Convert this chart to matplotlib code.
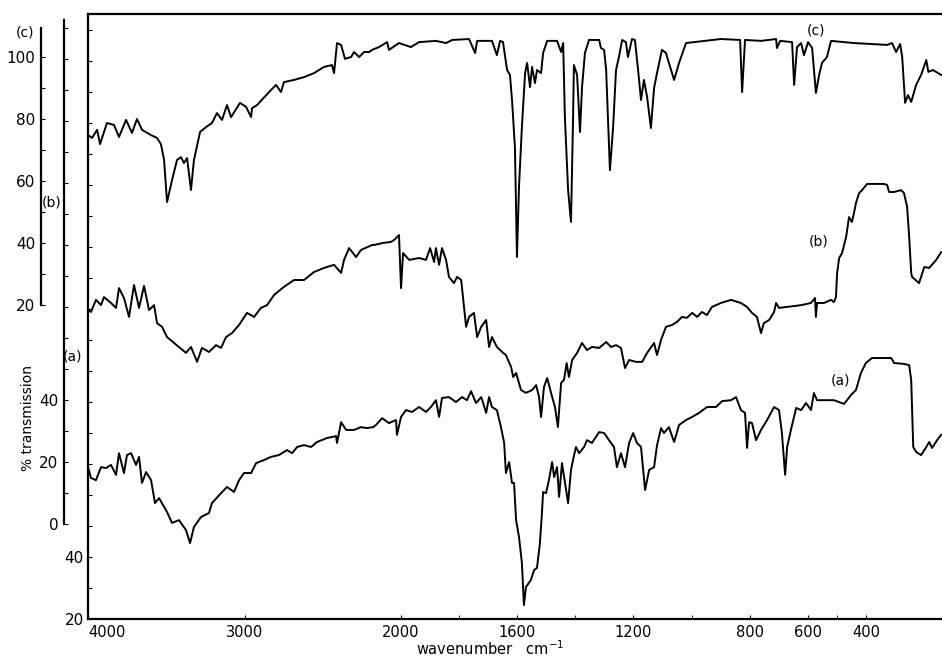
import matplotlib.pyplot as plt
import numpy as np

# spectrum (c) - read against the outer left scale
wn_c = [4000, 3974, 3942, 3923, 3879, 3834, 3802, 3757, 3719, 3687, 3655, 3597, 3559, 3534,
        3514, 3495, 3463, 3431, 3406, 3387, 3367, 3342, 3323, 3284, 3246, 3208, 3176, 3144,
        3112, 3086, 3029, 2990, 2958, 2952, 2920, 2843, 2799, 2767, 2748, 2684, 2620, 2556,
        2492, 2441, 2428, 2409, 2383, 2358, 2319, 2300, 2268, 2236, 2204, 2185, 2141, 2089,
        2077, 2013, 1966, 1938, 1880, 1845, 1824, 1766, 1745, 1738, 1687, 1670, 1659, 1649,
        1635, 1625, 1618, 1608, 1601, 1594, 1584, 1573, 1566, 1556, 1549, 1539, 1532, 1518,
        1511, 1497, 1463, 1449, 1442, 1436, 1425, 1415, 1408, 1405, 1394, 1384, 1377, 1367,
        1353, 1318, 1312, 1301, 1294, 1281, 1270, 1260, 1250, 1239, 1226, 1219, 1205, 1195,
        1184, 1174, 1164, 1153, 1140, 1129, 1119, 1102, 1088, 1078, 1060, 1043, 1019, 992,
        899, 833, 826, 816, 761, 709, 706, 695, 654, 647, 637, 623, 613, 599, 585, 572, 561,
        551, 534, 520, 441, 382, 327, 310, 296, 282, 275, 265, 255, 244, 227, 210, 192, 185,
        169, 141]
tr_c = [74.8, 73.9, 76.5, 71.9, 78.7, 78.1, 74.2, 79.7, 75.5, 80.0, 76.5, 74.8, 73.9, 71.9,
        66.8, 53.2, 60.3, 66.8, 67.7, 65.8, 67.4, 57.1, 66.8, 75.8, 77.4, 78.7, 81.9, 79.7,
        84.5, 80.6, 85.2, 83.9, 80.6, 83.5, 84.5, 88.7, 91.0, 88.7, 91.9, 92.6, 93.5, 94.8,
        96.8, 97.4, 94.8, 104.5, 103.9, 99.4, 100.0, 101.6, 100.0, 101.6, 101.6, 102.3, 103.2, 104.8,
        102.3, 104.5, 103.2, 104.8, 105.2, 104.5, 105.5, 105.8, 101.3, 105.2, 105.2, 100.6, 105.2, 104.8,
        95.8, 94.2, 86.1, 71.0, 35.5, 58.1, 77.4, 94.8, 98.1, 90.3, 96.8, 91.6, 95.8, 94.8,
        101.3, 105.2, 105.2, 101.6, 104.5, 80.6, 57.1, 46.8, 79.7, 97.4, 94.2, 75.8, 90.3, 101.3,
        105.5, 105.5, 102.9, 102.3, 95.8, 63.5, 77.4, 95.8, 100.0, 105.5, 104.8, 100.0, 105.8, 105.5,
        95.8, 86.1, 92.6, 87.1, 77.1, 90.0, 94.8, 102.3, 101.3, 98.1, 92.6, 98.1, 104.5, 104.8,
        105.8, 105.5, 88.7, 105.5, 105.2, 105.8, 102.9, 105.2, 104.8, 91.0, 103.2, 104.5, 100.6, 104.8, 102.9, 88.4, 94.2,
        98.1, 100.0, 105.2, 104.5, 104.2, 103.9, 104.5, 101.6, 104.2, 100.0, 85.2, 87.7, 85.5, 91.0, 94.2, 99.0, 95.2,
        95.8, 94.2]

# spectrum (b) - read against the inner left scale
wn_b = [4000, 3981, 3949, 3917, 3898, 3853, 3821, 3802, 3770, 3738, 3706, 3674, 3642, 3610,
        3578, 3559, 3527, 3495, 3450, 3419, 3374, 3342, 3303, 3272, 3227, 3182, 3150, 3118,
        3080, 3035, 2984, 2939, 2895, 2856, 2811, 2748, 2684, 2620, 2556, 2492, 2428, 2383,
        2364, 2332, 2287, 2256, 2185, 2172, 2121, 2064, 2045, 2013, 2000, 1993, 1972, 1938,
        1914, 1900, 1886, 1880, 1869, 1859, 1845, 1835, 1818, 1807, 1793, 1783, 1776, 1766,
        1749, 1738, 1724, 1707, 1697, 1687, 1670, 1652, 1639, 1621, 1614, 1604, 1587, 1570,
        1549, 1535, 1525, 1518, 1508, 1497, 1480, 1470, 1460, 1449, 1439, 1430, 1422, 1411,
        1394, 1377, 1360, 1343, 1318, 1294, 1277, 1260, 1243, 1229, 1215, 1191, 1170, 1153,
        1129, 1119, 1105, 1088, 1067, 1050, 1033, 1016, 998, 981, 964, 947, 930, 899, 864,
        830, 809, 792, 775, 761, 751, 733, 716, 709, 699, 675, 647, 623, 589, 575, 572, 568,
        544, 520, 510, 503, 499, 492, 482, 468, 458, 448, 441, 434, 423, 413, 396, 372, 337,
        327, 320, 303, 279, 269, 258, 251, 244, 241, 217, 199, 182, 158, 141]
tr_b = [69.0, 68.4, 72.3, 70.6, 73.2, 71.3, 69.7, 76.1, 72.9, 66.8, 77.1, 69.7, 76.8, 69.0,
        70.6, 64.8, 63.6, 60.3, 58.4, 57.1, 55.2, 57.1, 52.3, 56.8, 55.5, 57.7, 56.8, 60.3,
        61.6, 64.2, 68.1, 66.8, 69.7, 70.6, 73.9, 76.5, 78.7, 78.7, 81.3, 82.6, 83.6, 81.0,
        85.2, 89.0, 86.1, 88.4, 90.0, 90.0, 90.6, 91.0, 91.6, 93.2, 76.1, 87.4, 85.2, 85.8,
        85.2, 89.0, 84.5, 89.0, 83.6, 89.0, 85.2, 79.7, 77.7, 79.7, 78.7, 70.0, 63.6, 66.8,
        68.1, 60.3, 63.6, 65.8, 57.1, 60.3, 57.1, 55.5, 54.5, 50.6, 47.4, 48.7, 43.2, 42.3,
        43.2, 44.8, 41.0, 34.5, 44.2, 47.1, 41.0, 37.7, 31.3, 45.5, 46.5, 51.9, 47.4, 52.9,
        55.2, 58.4, 56.1, 57.1, 56.8, 58.7, 57.1, 57.7, 56.8, 50.3, 52.9, 52.3, 52.3, 55.2,
        58.4, 54.5, 59.4, 63.6, 64.2, 65.2, 66.8, 66.5, 68.1, 66.8, 68.4, 67.4, 70.0, 71.3, 72.3,
        71.3, 70.0, 68.1, 66.8, 61.6, 64.8, 65.8, 68.4, 71.3, 69.7, 70.0, 70.3, 70.6, 71.3, 72.9, 66.8, 71.3,
        71.3, 72.3, 71.6, 73.2, 81.0, 85.8, 87.4, 92.6, 99.0, 97.4, 100.3, 103.6, 106.8, 107.7, 109.7, 109.7, 109.7,
        109.4, 107.1, 107.1, 107.7, 106.8, 102.3, 92.6, 81.0, 79.7, 77.7, 82.9, 82.6, 85.2, 87.7]

# spectrum (a) - read against the scale on the plot frame
wn_a = [4000, 3981, 3949, 3917, 3885, 3853, 3821, 3802, 3770, 3751, 3725, 3693, 3674, 3655,
        3629, 3597, 3572, 3546, 3495, 3463, 3419, 3374, 3348, 3323, 3278, 3227, 3208, 3150,
        3112, 3067, 3035, 3003, 2958, 2926, 2875, 2831, 2780, 2728, 2696, 2664, 2620, 2575,
        2537, 2473, 2415, 2409, 2383, 2351, 2300, 2256, 2217, 2179, 2160, 2121, 2077, 2032,
        2026, 2000, 1983, 1962, 1938, 1914, 1897, 1880, 1869, 1859, 1835, 1811, 1790, 1773,
        1759, 1742, 1724, 1707, 1697, 1687, 1670, 1656, 1645, 1639, 1628, 1618, 1611, 1604,
        1594, 1584, 1577, 1570, 1553, 1542, 1532, 1522, 1515, 1511, 1501, 1491, 1480, 1473,
        1463, 1456, 1446, 1432, 1425, 1415, 1408, 1398, 1387, 1370, 1360, 1343, 1318, 1301,
        1284, 1267, 1257, 1243, 1229, 1215, 1201, 1188, 1174, 1160, 1146, 1129, 1119, 1105,
        1095, 1078, 1060, 1043, 1019, 998, 974, 947, 916, 895, 864, 847, 830, 816, 809, 802,
        792, 778, 761, 740, 716, 699, 689, 678, 671, 658, 640, 623, 606, 589, 579, 568, 544,
        510, 475, 451, 434, 417, 400, 379, 348, 313, 303, 269, 251, 244, 237, 227, 210, 192,
        182, 172, 155, 141]
tr_a = [69.0, 65.5, 64.8, 69.0, 68.7, 69.7, 66.5, 73.5, 67.1, 72.9, 73.5, 69.7, 72.3, 63.9,
        67.4, 64.8, 57.4, 59.0, 54.5, 51.0, 51.9, 48.7, 44.5, 49.7, 52.9, 54.2, 57.4, 60.6,
        62.6, 61.0, 64.8, 67.1, 67.1, 70.3, 71.3, 72.3, 72.9, 74.5, 73.5, 75.5, 76.1, 75.5,
        77.1, 78.4, 79.0, 76.8, 83.5, 81.0, 81.0, 81.9, 81.6, 81.9, 82.6, 84.8, 83.2, 84.2,
        79.4, 85.2, 87.4, 86.8, 88.4, 86.8, 88.4, 90.6, 85.2, 91.3, 91.6, 90.0, 91.6, 90.6,
        93.5, 89.7, 91.6, 86.5, 91.6, 88.4, 87.4, 81.9, 76.8, 67.1, 70.6, 63.9, 63.9, 51.9,
        46.5, 38.1, 24.5, 30.3, 32.6, 35.8, 36.5, 44.5, 54.2, 61.0, 60.6, 64.8, 70.6, 65.8,
        69.0, 59.4, 70.3, 61.6, 57.4, 68.1, 71.3, 75.5, 73.5, 75.5, 77.7, 76.8, 80.3, 80.0,
        77.7, 75.5, 69.0, 73.5, 69.0, 76.8, 80.0, 76.8, 75.5, 61.6, 68.1, 69.0, 76.0, 81.6,
        80.0, 81.9, 77.1, 82.6, 84.2, 85.2, 86.5, 88.4, 88.4, 90.3, 90.6, 91.6, 87.4, 86.5, 75.2, 83.5,
        83.2, 77.7, 81.0, 84.2, 88.4, 87.4, 80.0, 66.5, 75.5, 81.0, 88.1, 87.4, 89.7, 87.4, 92.9, 90.6, 90.6,
        90.6, 89.4, 92.3, 93.9, 99.4, 102.6, 104.2, 104.2, 104.2, 102.6, 102.3, 101.9, 97.1, 75.5, 73.9, 72.9, 75.5,
        77.1, 75.2, 77.7, 79.4]

xticks = [4000, 3000, 2000, 1600, 1200, 800, 600, 400]
xticks_minor = [1800, 1400, 1000, 500]


def fwd(w):
    """wavenumber -> chart position (negative, so the axis runs 4000 -> low), scale doubles below 2000"""
    w = np.asarray(w, float)
    return -np.where(w >= 2000, (4000 - w) * 0.1565, 313 + (2000 - w) * 0.2905)


def inv(p):
    p = -np.asarray(p, float)
    return np.where(p <= 313, 4000 - p / 0.1565, 2000 - (p - 313) / 0.2905)


W, H = 942, 657
fig = plt.figure(figsize=(W / 100, H / 100), dpi=100)
ax = fig.add_axes([88 / W, 38 / H, (W - 88) / W, 605 / H])
ax.set_xscale('function', functions=(fwd, inv))

ax_b = ax.twinx()
ax_c = ax.twinx()

ax.plot(wn_a, tr_a, color='black', lw=1.4)
ax_b.plot(wn_b, tr_b, color='black', lw=1.4)
ax_c.plot(wn_c, tr_c, color='black', lw=1.4)

ax.set_ylim(20, 215.2)
ax_b.set_ylim(-30.65, 164.52)
ax_c.set_ylim(-81.29, 113.87)

# frame and bottom axis
for s in ['left', 'bottom', 'top']:
    ax.spines[s].set_linewidth(1.6)
ax.spines['right'].set_visible(False)
ax.set_xticks(xticks)
ax.set_xticklabels([str(t) for t in xticks], fontsize=10.5)
ax.set_xticks(xticks_minor, minor=True)
ax.tick_params(axis='x', which='both', direction='in', length=3, pad=4, top=False)
ax.set_xlim(4000, 138)
ax.get_xticklabels()[0].set_horizontalalignment('left')

# frame scale (a)
yt = np.arange(20, 211, 10)
ax.set_yticks(yt)
ax.set_yticklabels([str(t) if t in (20, 40) else '' for t in yt], fontsize=11)
ax.tick_params(axis='y', direction='in', length=3, pad=3, right=False)

# inner and outer scales
for twin, out, lo, hi, ticks, labelled in [
        (ax_b, 17.3, 0, 162.6, np.arange(0, 161, 10), (0, 20, 40)),
        (ax_c, 33.8, 20, 109.4, np.arange(20, 101, 10), (20, 40, 60, 80, 100))]:
    for s in ['right', 'top', 'bottom']:
        twin.spines[s].set_visible(False)
    twin.spines['left'].set_visible(True)
    twin.spines['left'].set_position(('outward', out))
    twin.spines['left'].set_bounds(lo, hi)
    twin.spines['left'].set_linewidth(1.6)
    twin.yaxis.set_ticks_position('left')
    twin.set_yticks(ticks)
    twin.set_yticklabels([str(t) if t in labelled else '' for t in ticks], fontsize=11)
    twin.tick_params(axis='y', direction='in', length=3, pad=4)

fig.text(25 / W, 1 - 33 / H, '(c)', fontsize=10, ha='center', va='center')
fig.text(52 / W, 1 - 202 / H, '(b)', fontsize=10, ha='center', va='center')
fig.text(73 / W, 1 - 357 / H, '(a)', fontsize=10, ha='center', va='center')
fig.text(28 / W, 1 - 418 / H, '% transmission', fontsize=10, rotation=90,
         ha='center', va='center')
fig.text(490 / W, 1 - 649 / H, 'wavenumber   cm$^{-1}$', fontsize=10.5,
         ha='center', va='center')

ax_c.text(571, 108.7, '(c)', fontsize=10, ha='center', va='center')
ax_b.text(561, 91, '(b)', fontsize=10, ha='center', va='center')
ax.text(486, 97.1, '(a)', fontsize=10, ha='center', va='center')

fig.savefig('out.png', dpi=100)
